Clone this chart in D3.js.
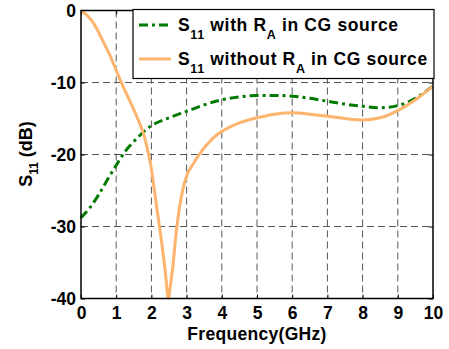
<!DOCTYPE html>
<html><head><meta charset="utf-8">
<script src="https://cdn.jsdelivr.net/npm/d3@7"></script>
<style>body{margin:0;background:#fff}svg{display:block}text{font-family:"Liberation Sans",Arial,sans-serif;font-weight:bold;fill:#000}</style>
</head><body><svg id="c" width="449" height="349"></svg>
<script>
const xTicks=[0,1,2,3,4,5,6,7,8,9,10];
const yTicks=[0,-10,-20,-30,-40];
const freqWith=[0,0.25,0.5,0.75,1,1.25,1.5,2,2.5,3,3.5,4,4.5,5,5.5,6,6.5,7,7.5,8,8.5,9,9.5,10];
const s11With=[-28.8,-27.4,-25.6,-23.5,-21.5,-19.6,-18.2,-16.0,-14.9,-14.0,-13.1,-12.4,-12.0,-11.8,-11.8,-11.9,-12.2,-12.6,-13.0,-13.3,-13.5,-13.2,-12.2,-10.5];
const freqWithout=[0,0.2,0.4,0.6,0.8,1.0,1.2,1.4,1.6,1.8,1.9,2.0,2.1,2.2,2.3,2.4,2.48,2.55,2.6,2.7,2.8,2.9,3.0,3.2,3.4,3.6,3.8,4.0,4.5,5,5.5,6,6.5,7,7.5,8,8.5,9,9.5,10];
const s11Without=[0,-0.8,-2.1,-4.0,-6.0,-8.3,-10.6,-12.7,-14.9,-17.5,-19.5,-22.0,-25.5,-29,-32.5,-36.5,-40,-37.8,-36,-31,-27.3,-24.7,-23.0,-21.2,-19.7,-18.5,-17.5,-16.8,-15.6,-14.9,-14.4,-14.2,-14.4,-14.7,-15.0,-15.2,-14.9,-13.9,-12.4,-10.5];

const L=81,R=433,T=10.5,B=298.5;
const svg=d3.select("#c");
const x=d3.scaleLinear().domain([0,10]).range([L,R]);
const y=d3.scaleLinear().domain([-40,0]).range([B,T]);

// grid
const g=svg.append("g");
g.selectAll("line.v").data(xTicks.slice(1,-1)).join("line")
 .attr("x1",d=>x(d)).attr("x2",d=>x(d)).attr("y1",T).attr("y2",B)
 .attr("stroke","#555").attr("stroke-width",1).attr("stroke-dasharray","7,4");
g.selectAll("line.h").data(yTicks.slice(1,-1)).join("line")
 .attr("y1",d=>y(d)).attr("y2",d=>y(d)).attr("x1",L).attr("x2",R)
 .attr("stroke","#555").attr("stroke-width",1).attr("stroke-dasharray","7,4");

// axes
const xa=svg.append("g").attr("transform",`translate(0,${B})`)
 .call(d3.axisBottom(x).tickValues(xTicks).tickSize(-4).tickPadding(8).tickFormat(d3.format("d")));
const xt=svg.append("g").attr("transform",`translate(0,${T})`)
 .call(d3.axisTop(x).tickValues(xTicks).tickSize(-4).tickFormat(""));
const ya=svg.append("g").attr("transform",`translate(${L},0)`)
 .call(d3.axisLeft(y).tickValues(yTicks).tickSize(-4).tickPadding(6).tickFormat(d=>d===0?"0":String(d).replace("−","-")));
const yr=svg.append("g").attr("transform",`translate(${R},0)`)
 .call(d3.axisRight(y).tickValues(yTicks).tickSize(-4).tickFormat(""));
[xa,xt,ya,yr].forEach(a=>{a.select(".domain").remove();a.selectAll("line").attr("stroke","#000");a.selectAll("text").attr("font-size","17.5px").attr("font-family",'"Liberation Sans",Arial,sans-serif').attr("font-weight","bold").attr("fill","#000");});
xa.selectAll("text").attr("dy","0.71em").attr("y",8);
ya.selectAll("text").attr("x",-5);

// curves
const line=d3.line().x(d=>x(d[0])).y(d=>y(d[1])).curve(d3.curveMonotoneX);
svg.append("path").datum(freqWith.map((f,i)=>[f,s11With[i]])).attr("d",line)
 .attr("fill","none").attr("stroke","#007a00").attr("stroke-width",3).attr("stroke-dasharray","9,4,3,4");
svg.append("path").datum(freqWithout.map((f,i)=>[f,s11Without[i]])).attr("d",line)
 .attr("fill","none").attr("stroke","#FDB46E").attr("stroke-width",3).attr("stroke-linejoin","round");

// frame
svg.append("rect").attr("x",L).attr("y",T).attr("width",R-L).attr("height",B-T)
 .attr("fill","none").attr("stroke","#000").attr("stroke-width",1.5);

// legend
const lg=svg.append("g");
lg.append("rect").attr("x",133).attr("y",9.5).attr("width",301).attr("height",69)
 .attr("fill","#fff").attr("stroke","#000").attr("stroke-width",1.2);
lg.append("line").attr("x1",139).attr("x2",171).attr("y1",25).attr("y2",25)
 .attr("stroke","#007a00").attr("stroke-width",3).attr("stroke-dasharray","9,4,3,4");
lg.append("line").attr("x1",139).attr("x2",171).attr("y1",59).attr("y2",59)
 .attr("stroke","#FDB46E").attr("stroke-width",3);
function legText(yb,parts){
  const t=lg.append("text").attr("x",178).attr("y",yb).attr("font-size","17.5px").attr("letter-spacing","0.65px");
  parts.forEach(p=>{
    if(p.sub){t.append("tspan").attr("font-size","12.5px").attr("dy",8).text(p.t);}
    else{t.append("tspan").attr("dy",p.back?-8:0).text(p.t);}
  });
}
legText(30.5,[{t:"S"},{t:"11",sub:true},{t:" with R",back:true},{t:"A",sub:true},{t:" in CG source",back:true}]);
legText(64.5,[{t:"S"},{t:"11",sub:true},{t:" without R",back:true},{t:"A",sub:true},{t:" in CG source",back:true}]);

// axis labels
svg.append("text").attr("x",(L+R)/2).attr("y",340).attr("text-anchor","middle").attr("font-size","17.5px").attr("letter-spacing","0.3px").text("Frequency(GHz)");
const yl=svg.append("text").attr("transform","translate(32,154) rotate(-90)").attr("text-anchor","middle").attr("font-size","18px");
yl.append("tspan").text("S");
yl.append("tspan").attr("font-size","12px").attr("dy",6).text("11");
yl.append("tspan").attr("dy",-6).text(" (dB)");
</script></body></html>
